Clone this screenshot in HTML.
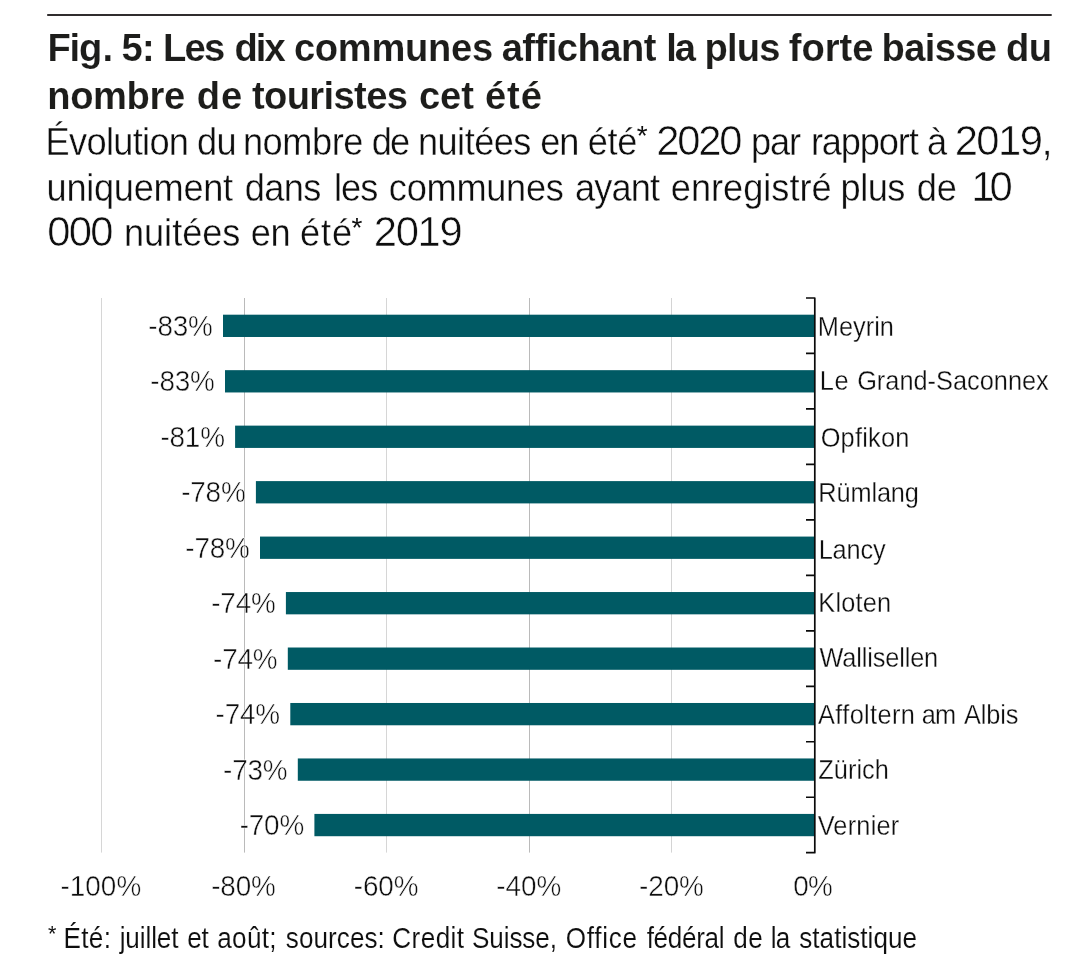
<!DOCTYPE html>
<html lang="fr">
<head>
<meta charset="utf-8">
<title>Fig. 5: Les dix communes affichant la plus forte baisse du nombre de touristes cet été</title>
<style>
html,body{margin:0;padding:0;background:#fff;}
body{width:1091px;height:960px;overflow:hidden;}
svg{display:block;}
text{font-family:"Liberation Sans",sans-serif;fill:#1d1d1b;white-space:pre;}
.l{stroke:#fff;fill:#0e0e0e;}
.b{font-weight:bold;fill:#1d1d1b;}
</style>
</head>
<body>
<svg width="1091" height="960" viewBox="0 0 1091 960">
<rect width="1091" height="960" fill="#ffffff"/>

<rect x="47.2" y="14.1" width="1004.5" height="1.8" fill="#1a1718"/>
<rect x="101" y="298" width="1" height="554.6" fill="#000" fill-opacity="0.16"/>
<rect x="244" y="298" width="1" height="554.6" fill="#000" fill-opacity="0.27"/>
<rect x="386" y="298" width="1" height="554.6" fill="#000" fill-opacity="0.16"/>
<rect x="529" y="298" width="1" height="554.6" fill="#000" fill-opacity="0.27"/>
<rect x="671" y="298" width="1" height="554.6" fill="#000" fill-opacity="0.17"/>
<rect x="223.0" y="314.69" width="591.80" height="22.3" fill="#005a64"/>
<rect x="225.0" y="370.16" width="589.80" height="22.3" fill="#005a64"/>
<rect x="235.1" y="425.63" width="579.70" height="22.3" fill="#005a64"/>
<rect x="255.9" y="481.10" width="558.90" height="22.3" fill="#005a64"/>
<rect x="260.0" y="536.57" width="554.80" height="22.3" fill="#005a64"/>
<rect x="285.9" y="592.04" width="528.90" height="22.3" fill="#005a64"/>
<rect x="287.8" y="647.51" width="527.00" height="22.3" fill="#005a64"/>
<rect x="290.3" y="702.98" width="524.50" height="22.3" fill="#005a64"/>
<rect x="297.8" y="758.45" width="517.00" height="22.3" fill="#005a64"/>
<rect x="314.4" y="813.92" width="500.40" height="22.3" fill="#005a64"/>
<path d="M806 298.00H814.80V852.70H806M806 353.47H814.80M806 408.94H814.80M806 464.41H814.80M806 519.88H814.80M806 575.35H814.80M806 630.82H814.80M806 686.29H814.80M806 741.76H814.80M806 797.23H814.80" fill="none" stroke="#0a0a0a" stroke-width="1.7" stroke-linejoin="round"/>
<text class="b l" y="61" font-size="39.5" stroke-width="0.12" transform="scale(0.965,1)"><tspan x="49.13" letter-spacing="-1.116">Fig</tspan><tspan x="106.23" letter-spacing="0.000">.</tspan> <tspan x="125.88" letter-spacing="-0.792">5:</tspan> <tspan x="168.92" letter-spacing="-1.761">Les</tspan> <tspan x="242.98" letter-spacing="-1.977">dix</tspan> <tspan x="304.64" letter-spacing="-0.298">communes</tspan> <tspan x="519.87" letter-spacing="-0.505">affichant</tspan> <tspan x="690.36" letter-spacing="-1.977">la</tspan> <tspan x="729.96" letter-spacing="-0.820">plus</tspan> <tspan x="817.35" letter-spacing="-0.013">forte</tspan> <tspan x="913.48" letter-spacing="-0.660">baisse</tspan> <tspan x="1042.56" letter-spacing="-0.651">du</tspan></text>
<text class="b l" y="109" font-size="39.5" stroke-width="0.12" transform="scale(0.965,1)"><tspan x="48.92" letter-spacing="-0.351">nombre</tspan> <tspan x="203.78" letter-spacing="1.032">de</tspan> <tspan x="261.08" letter-spacing="-0.638">touristes</tspan> <tspan x="434.17" letter-spacing="-0.030">cet</tspan> <tspan x="502.56" letter-spacing="0.999">été</tspan></text>
<text class="l" y="155" font-size="38.7" stroke-width="0.38" transform="scale(0.935,1)"><tspan x="48.78" letter-spacing="-0.731">Évolution</tspan> <tspan x="210.78" letter-spacing="-0.607">du</tspan> <tspan x="259.83" letter-spacing="-0.466">nombre</tspan> <tspan x="397.52" letter-spacing="-2.044">de</tspan> <tspan x="446.99" letter-spacing="-0.559">nuitées</tspan> <tspan x="577.73" letter-spacing="-1.035">en</tspan> <tspan x="628.74" letter-spacing="-0.402">été</tspan></text>
<text class="l" x="636.70" y="145" font-size="28" stroke-width="0">*</text>
<text class="l" x="656.30" y="155" font-size="41.8" stroke-width="0.6" letter-spacing="-2.245">2020</text>
<text class="l" y="155" font-size="38.7" stroke-width="0.38" transform="scale(0.935,1)"><tspan x="803.14" letter-spacing="-1.144">par</tspan> <tspan x="867.32" letter-spacing="-1.194">rapport</tspan> <tspan x="991.44" letter-spacing="0.000">à</tspan></text>
<text class="l" x="954.70" y="155" font-size="41.8" stroke-width="0.6" letter-spacing="-1.595">2019,</text>
<text class="l" y="201" font-size="38.7" stroke-width="0.38" transform="scale(0.935,1)"><tspan x="49.78" letter-spacing="-0.288">uniquement</tspan> <tspan x="261.90" letter-spacing="-0.666">dans</tspan> <tspan x="357.16" letter-spacing="-0.927">les</tspan> <tspan x="415.91" letter-spacing="-0.296">communes</tspan> <tspan x="615.05" letter-spacing="-0.965">ayant</tspan> <tspan x="717.51" letter-spacing="-0.014">enregistré</tspan> <tspan x="898.97" letter-spacing="-0.518">plus</tspan> <tspan x="980.61" letter-spacing="-0.217">de</tspan></text>
<text class="l" x="971.20" y="201" font-size="41.8" stroke-width="0.6" letter-spacing="-4.845">10</text>
<text class="l" x="47.30" y="246" font-size="41.8" stroke-width="0.6" letter-spacing="-1.745">000</text>
<text class="l" y="246" font-size="38.7" stroke-width="0.38" transform="scale(0.935,1)"><tspan x="132.56" letter-spacing="-0.024">nuitées</tspan> <tspan x="268.32" letter-spacing="-0.607">en</tspan> <tspan x="320.94" letter-spacing="0.881">été</tspan></text>
<text class="l" x="351.60" y="237" font-size="28" stroke-width="0">*</text>
<text class="l" x="373.70" y="246" font-size="41.8" stroke-width="0.6" letter-spacing="-1.279">2019</text>
<text class="l" x="48.10" y="941" font-size="21.5" stroke-width="0">*</text>
<text class="l" y="948" font-size="29" stroke-width="0.12" transform="scale(0.9,1)"><tspan x="70.49" letter-spacing="0.387">Été:</tspan> <tspan x="132.93" letter-spacing="-0.112">juillet</tspan> <tspan x="208.16" letter-spacing="-0.440">et</tspan> <tspan x="241.49" letter-spacing="0.312">août;</tspan> <tspan x="317.60" letter-spacing="0.069">sources:</tspan> <tspan x="435.93" letter-spacing="0.478">Credit</tspan> <tspan x="524.49" letter-spacing="-0.133">Suisse,</tspan> <tspan x="628.60" letter-spacing="0.809">Office</tspan> <tspan x="718.49" letter-spacing="-0.331">fédéral</tspan> <tspan x="814.82" letter-spacing="0.449">de</tspan> <tspan x="856.40" letter-spacing="-0.909">la</tspan> <tspan x="888.04" letter-spacing="0.036">statistique</tspan></text>
<text class="l" y="336" font-size="28" stroke-width="0.3" transform="scale(0.905,1)"><tspan x="903.69" letter-spacing="0.022">Meyrin</tspan></text>
<text class="l" y="390" font-size="28" stroke-width="0.3" transform="scale(0.905,1)"><tspan x="905.68" letter-spacing="0.930">Le</tspan> <tspan x="947.12" letter-spacing="0.011">Grand-Saconnex</tspan></text>
<text class="l" y="447" font-size="28" stroke-width="0.3" transform="scale(0.905,1)"><tspan x="906.79" letter-spacing="0.276">Opfikon</tspan></text>
<text class="l" y="502" font-size="28" stroke-width="0.3" transform="scale(0.905,1)"><tspan x="904.24" letter-spacing="-0.143">Rümlang</tspan></text>
<text class="l" y="559" font-size="28" stroke-width="0.3" transform="scale(0.905,1)"><tspan x="904.57" letter-spacing="-0.168">Lancy</tspan></text>
<text class="l" y="612" font-size="28" stroke-width="0.3" transform="scale(0.905,1)"><tspan x="904.24" letter-spacing="0.195">Kloten</tspan></text>
<text class="l" y="667" font-size="28" stroke-width="0.3" transform="scale(0.905,1)"><tspan x="905.47" letter-spacing="-0.149">Wallisellen</tspan></text>
<text class="l" y="724" font-size="28" stroke-width="0.3" transform="scale(0.905,1)"><tspan x="903.92" letter-spacing="0.402">Affoltern</tspan> <tspan x="1018.42" letter-spacing="-0.827">am</tspan> <tspan x="1065.25" letter-spacing="-0.116">Albis</tspan></text>
<text class="l" y="779" font-size="28" stroke-width="0.3" transform="scale(0.905,1)"><tspan x="904.14" letter-spacing="0.071">Zürich</tspan></text>
<text class="l" y="835" font-size="28" stroke-width="0.3" transform="scale(0.905,1)"><tspan x="903.48" letter-spacing="0.259">Vernier</tspan></text>
<text class="l" y="336" font-size="30" stroke-width="0.5" transform="scale(0.93,1)"><tspan x="159.48" letter-spacing="-0.206">-83%</tspan></text>
<text class="l" y="391" font-size="30" stroke-width="0.5" transform="scale(0.93,1)"><tspan x="161.63" letter-spacing="-0.206">-83%</tspan></text>
<text class="l" y="447" font-size="30" stroke-width="0.5" transform="scale(0.93,1)"><tspan x="172.49" letter-spacing="-0.206">-81%</tspan></text>
<text class="l" y="502" font-size="30" stroke-width="0.5" transform="scale(0.93,1)"><tspan x="194.86" letter-spacing="-0.206">-78%</tspan></text>
<text class="l" y="558" font-size="30" stroke-width="0.5" transform="scale(0.93,1)"><tspan x="199.27" letter-spacing="-0.206">-78%</tspan></text>
<text class="l" y="613" font-size="30" stroke-width="0.5" transform="scale(0.93,1)"><tspan x="227.12" letter-spacing="-0.206">-74%</tspan></text>
<text class="l" y="669" font-size="30" stroke-width="0.5" transform="scale(0.93,1)"><tspan x="229.16" letter-spacing="-0.206">-74%</tspan></text>
<text class="l" y="724" font-size="30" stroke-width="0.5" transform="scale(0.93,1)"><tspan x="231.85" letter-spacing="-0.206">-74%</tspan></text>
<text class="l" y="780" font-size="30" stroke-width="0.5" transform="scale(0.93,1)"><tspan x="239.91" letter-spacing="-0.206">-73%</tspan></text>
<text class="l" y="835" font-size="30" stroke-width="0.5" transform="scale(0.93,1)"><tspan x="257.76" letter-spacing="-0.206">-70%</tspan></text>
<text class="l" y="896" font-size="30" stroke-width="0.5" transform="scale(0.93,1)"><tspan x="65.02" letter-spacing="0.029">-100%</tspan></text>
<text class="l" y="896" font-size="30" stroke-width="0.5" transform="scale(0.93,1)"><tspan x="227.08" letter-spacing="-0.170">-80%</tspan></text>
<text class="l" y="896" font-size="30" stroke-width="0.5" transform="scale(0.93,1)"><tspan x="380.47" letter-spacing="-0.170">-60%</tspan></text>
<text class="l" y="896" font-size="30" stroke-width="0.5" transform="scale(0.93,1)"><tspan x="533.55" letter-spacing="0.045">-40%</tspan></text>
<text class="l" y="896" font-size="30" stroke-width="0.5" transform="scale(0.93,1)"><tspan x="687.22" letter-spacing="-0.134">-20%</tspan></text>
<text class="l" y="896" font-size="30" stroke-width="0.5" transform="scale(0.93,1)"><tspan x="853.03" letter-spacing="-0.932">0%</tspan></text>
</svg>
</body>
</html>
